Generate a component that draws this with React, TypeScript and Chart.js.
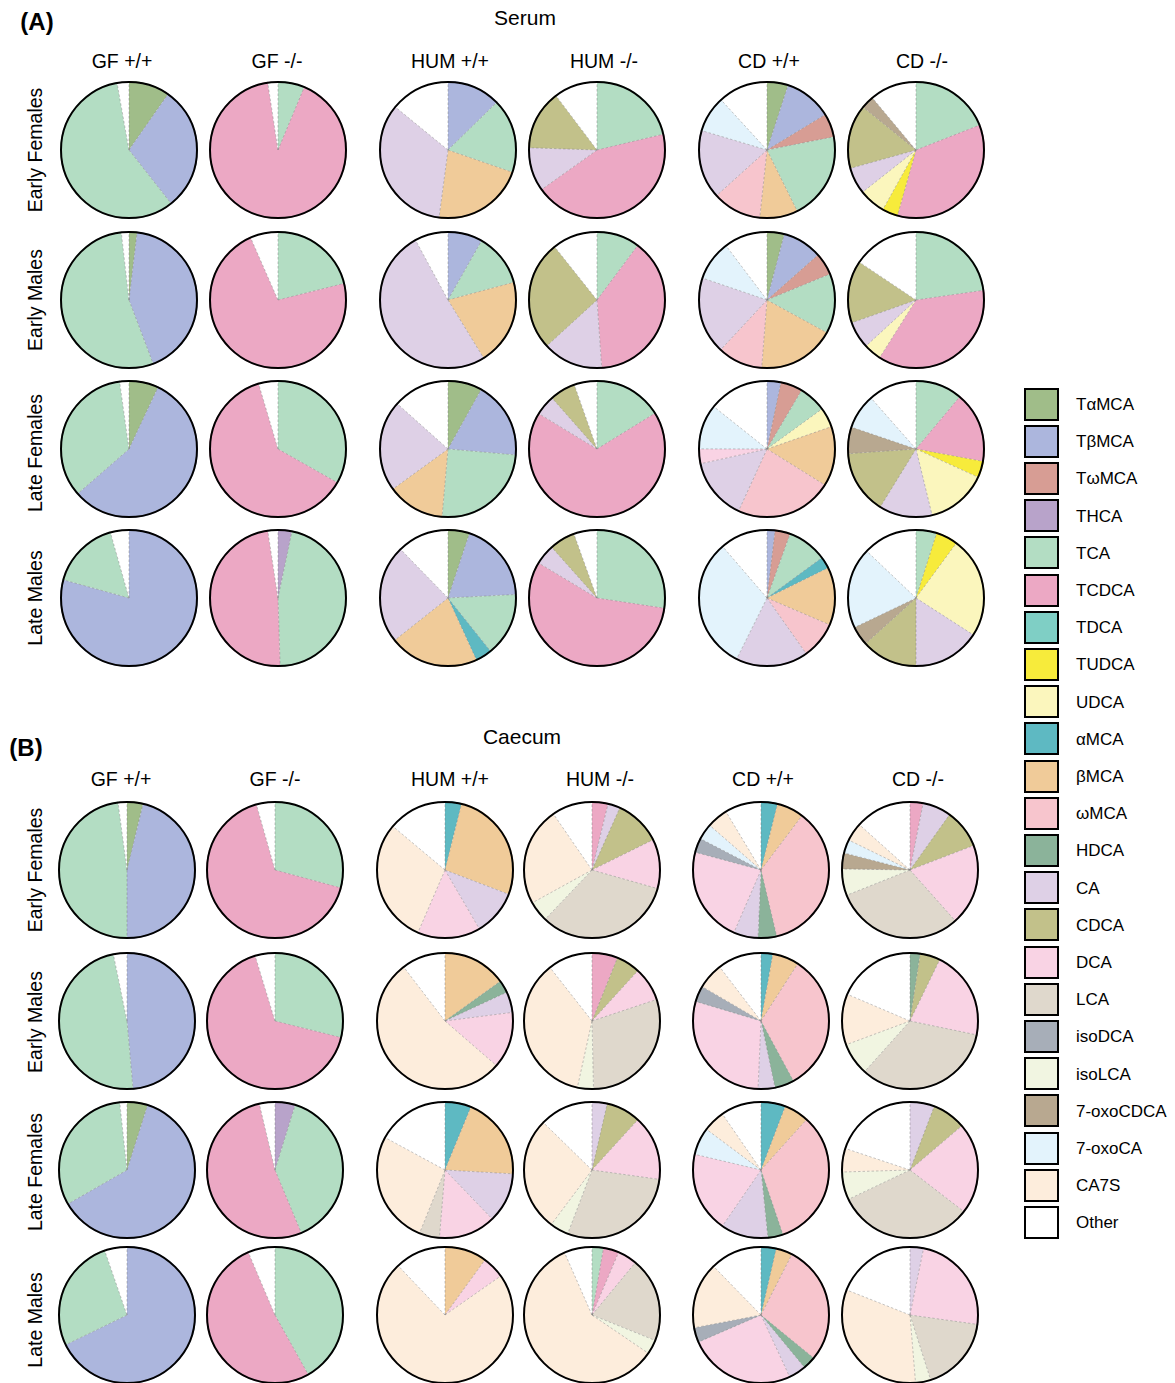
import React, { useEffect, useRef } from "react";
import { Chart, registerables } from "chart.js";

Chart.register(...registerables);

// ---------- categories ----------
const acids = [
  "TαMCA", "TβMCA", "TωMCA", "THCA", "TCA", "TCDCA", "TDCA", "TUDCA", "UDCA",
  "αMCA", "βMCA", "ωMCA", "HDCA", "CA", "CDCA", "DCA", "LCA", "isoDCA", "isoLCA",
  "7-oxoCDCA", "7-oxoCA", "CA7S", "Other",
];
const acidColors = [
  "#A0BD89", "#ACB6DD", "#D79D94", "#B8A3CA", "#B3DDC3", "#ECA8C4", "#7FCFC5", "#F7EB3B", "#FBF6BD",
  "#5EB9C2", "#F0CB99", "#F7C5CD", "#8BB39A", "#DED0E6", "#C2C18A", "#F9D3E4", "#DFD8CC", "#A7AEB8", "#F1F5E1",
  "#B8A890", "#E3F3FC", "#FDEDDC", "#FFFFFF",
];
const groups = ["GF +/+", "GF -/-", "HUM +/+", "HUM -/-", "CD +/+", "CD -/-"];
const cohorts = ["Early Females", "Early Males", "Late Females", "Late Males"];

type Slice = [string, number];

// ---------- Serum (% of total, per group GF+/+, GF-/-, HUM+/+, HUM-/-, CD+/+, CD-/-) ----------
const serumEarlyFemales: Slice[][] = [
  [["TαMCA", 9.7], ["TβMCA", 29.7], ["TCA", 57.8], ["Other", 2.8]],
  [["TCA", 6.3], ["TCDCA", 91.3], ["Other", 2.4]],
  [["TβMCA", 12.7], ["TCA", 17.6], ["βMCA", 21.8], ["CA", 33.8], ["Other", 14.1]],
  [["TCA", 21.3], ["TCDCA", 43.9], ["CA", 10.4], ["CDCA", 14.2], ["Other", 10.3]],
  [["TαMCA", 5.0], ["TβMCA", 11.3], ["TωMCA", 5.6], ["TCA", 20.8], ["βMCA", 9.0], ["ωMCA", 11.6], ["CA", 16.3], ["7-oxoCA", 8.6], ["Other", 11.8]],
  [["TCA", 19.1], ["TCDCA", 35.4], ["TUDCA", 3.7], ["UDCA", 6.3], ["CA", 6.3], ["CDCA", 15.2], ["7-oxoCDCA", 3.1], ["Other", 11.1]],
];
const serumEarlyMales: Slice[][] = [
  [["TαMCA", 1.9], ["TβMCA", 42.3], ["TCA", 53.9], ["Other", 1.8]],
  [["TCA", 21.1], ["TCDCA", 72.4], ["Other", 6.6]],
  [["TβMCA", 8.2], ["TCA", 12.6], ["βMCA", 20.4], ["CA", 50.8], ["Other", 7.9]],
  [["TCA", 10.2], ["TCDCA", 38.7], ["CA", 14.3], ["CDCA", 26.1], ["Other", 10.7]],
  [["TαMCA", 4.1], ["TβMCA", 9.4], ["TωMCA", 5.3], ["TCA", 14.2], ["βMCA", 18.3], ["ωMCA", 10.7], ["CA", 18.3], ["7-oxoCA", 9.5], ["Other", 10.3]],
  [["TCA", 22.7], ["TCDCA", 36.2], ["UDCA", 4.2], ["CA", 6.4], ["CDCA", 14.8], ["Other", 15.6]],
];
const serumLateFemales: Slice[][] = [
  [["TαMCA", 7.0], ["TβMCA", 56.6], ["TCA", 34.2], ["Other", 2.2]],
  [["TCA", 33.2], ["TCDCA", 62.2], ["Other", 4.6]],
  [["TαMCA", 8.1], ["TβMCA", 18.3], ["TCA", 25.0], ["βMCA", 13.6], ["CA", 21.6], ["Other", 13.4]],
  [["TCA", 16.2], ["TCDCA", 67.5], ["CA", 4.8], ["CDCA", 6.1], ["Other", 5.4]],
  [["TβMCA", 3.3], ["TωMCA", 5.2], ["TCA", 6.5], ["UDCA", 4.7], ["βMCA", 14.2], ["ωMCA", 23.0], ["CA", 14.7], ["DCA", 3.5], ["7-oxoCA", 10.7], ["Other", 14.3]],
  [["TCA", 11.1], ["TCDCA", 16.8], ["TUDCA", 3.9], ["UDCA", 14.4], ["CA", 12.6], ["CDCA", 15.1], ["7-oxoCDCA", 6.3], ["7-oxoCA", 8.3], ["Other", 11.5]],
];
const serumLateMales: Slice[][] = [
  [["TβMCA", 79.3], ["TCA", 16.3], ["Other", 4.4]],
  [["THCA", 3.3], ["TCA", 46.2], ["TCDCA", 48.1], ["Other", 2.4]],
  [["TαMCA", 5.1], ["TβMCA", 19.1], ["TCA", 15.1], ["αMCA", 3.9], ["βMCA", 21.2], ["CA", 23.4], ["Other", 12.3]],
  [["TCA", 27.4], ["TCDCA", 56.2], ["CA", 4.8], ["CDCA", 6.1], ["Other", 5.5]],
  [["TβMCA", 1.9], ["TωMCA", 3.6], ["TCA", 9.4], ["αMCA", 2.8], ["βMCA", 13.7], ["ωMCA", 8.8], ["CA", 17.1], ["7-oxoCA", 31.3], ["Other", 11.3]],
  [["TCA", 4.9], ["TUDCA", 5.2], ["UDCA", 24.0], ["CA", 15.9], ["CDCA", 13.3], ["7-oxoCDCA", 4.6], ["7-oxoCA", 19.2], ["Other", 12.9]],
];

// ---------- Caecum ----------
const caecumEarlyFemales: Slice[][] = [
  [["TαMCA", 3.8], ["TβMCA", 46.2], ["TCA", 47.9], ["Other", 2.1]],
  [["TCA", 29.2], ["TCDCA", 66.3], ["Other", 4.4]],
  [["αMCA", 3.9], ["βMCA", 26.9], ["CA", 10.8], ["DCA", 14.9], ["CA7S", 29.6], ["Other", 13.9]],
  [["TCDCA", 3.8], ["CA", 2.9], ["CDCA", 11.0], ["DCA", 11.7], ["LCA", 32.7], ["isoLCA", 4.9], ["CA7S", 23.4], ["Other", 9.6]],
  [["αMCA", 3.9], ["βMCA", 6.4], ["ωMCA", 36.0], ["HDCA", 4.4], ["CA", 5.8], ["DCA", 22.7], ["isoDCA", 3.4], ["7-oxoCA", 3.8], ["CA7S", 5.0], ["Other", 8.6]],
  [["TCDCA", 3.1], ["CA", 6.8], ["CDCA", 9.3], ["DCA", 19.3], ["LCA", 30.6], ["isoLCA", 6.3], ["7-oxoCDCA", 3.8], ["7-oxoCA", 3.2], ["CA7S", 4.4], ["Other", 13.4]],
];
const caecumEarlyMales: Slice[][] = [
  [["TβMCA", 48.6], ["TCA", 48.2], ["Other", 3.2]],
  [["TCA", 28.9], ["TCDCA", 66.4], ["Other", 4.7]],
  [["βMCA", 15.1], ["HDCA", 3.0], ["CA", 4.9], ["DCA", 13.4], ["CA7S", 53.3], ["Other", 10.4]],
  [["TCDCA", 6.1], ["CDCA", 5.7], ["DCA", 8.1], ["LCA", 29.8], ["isoLCA", 3.8], ["CA7S", 36.0], ["Other", 10.6]],
  [["αMCA", 2.8], ["βMCA", 6.3], ["ωMCA", 33.1], ["HDCA", 4.6], ["CA", 4.0], ["DCA", 29.0], ["isoDCA", 3.8], ["CA7S", 6.2], ["Other", 10.4]],
  [["HDCA", 2.4], ["CDCA", 4.8], ["DCA", 21.1], ["LCA", 33.4], ["isoLCA", 7.7], ["CA7S", 12.1], ["Other", 18.6]],
];
const caecumLateFemales: Slice[][] = [
  [["TαMCA", 4.9], ["TβMCA", 61.8], ["TCA", 31.6], ["Other", 1.7]],
  [["THCA", 4.8], ["TCA", 38.9], ["TCDCA", 52.6], ["Other", 3.7]],
  [["αMCA", 6.2], ["βMCA", 19.7], ["CA", 11.9], ["DCA", 13.5], ["LCA", 4.8], ["CA7S", 26.8], ["Other", 17.1]],
  [["CA", 3.6], ["CDCA", 8.2], ["DCA", 15.4], ["LCA", 28.6], ["isoLCA", 4.4], ["CA7S", 27.1], ["Other", 12.7]],
  [["αMCA", 5.8], ["βMCA", 5.9], ["ωMCA", 33.1], ["HDCA", 3.6], ["CA", 11.2], ["DCA", 19.1], ["7-oxoCA", 6.5], ["CA7S", 5.2], ["Other", 9.6]],
  [["CA", 5.8], ["CDCA", 8.0], ["DCA", 21.7], ["LCA", 32.5], ["isoLCA", 6.6], ["CA7S", 5.6], ["Other", 19.9]],
];
const caecumLateMales: Slice[][] = [
  [["TβMCA", 67.8], ["TCA", 26.9], ["Other", 5.3]],
  [["TCA", 41.9], ["TCDCA", 51.7], ["Other", 6.4]],
  [["βMCA", 10.0], ["DCA", 5.3], ["CA7S", 72.7], ["Other", 12.1]],
  [["TCA", 2.7], ["TCDCA", 3.7], ["DCA", 4.6], ["LCA", 20.1], ["isoLCA", 3.4], ["CA7S", 58.9], ["Other", 6.6]],
  [["αMCA", 3.6], ["βMCA", 3.9], ["ωMCA", 28.4], ["HDCA", 3.1], ["CA", 4.1], ["DCA", 25.4], ["isoDCA", 3.5], ["CA7S", 15.7], ["Other", 12.3]],
  [["CA", 3.2], ["DCA", 24.0], ["LCA", 17.9], ["isoLCA", 3.6], ["CA7S", 32.3], ["Other", 19.0]],
];

const serumRows = [serumEarlyFemales, serumEarlyMales, serumLateFemales, serumLateMales];
const caecumRows = [caecumEarlyFemales, caecumEarlyMales, caecumLateFemales, caecumLateMales];

// ---------- layout ----------
const FONT = "'Liberation Sans', Arial, Helvetica, sans-serif";
const PIE = 138;
const serumX = [129, 278, 448, 597, 767, 916];
const serumY = [150, 300, 449, 598];
const serumHeaderX = [122, 277, 450, 604, 769, 922];
const serumLabelY = [150, 300, 453, 598];
const caecumX = [127, 275, 445, 592, 761, 910];
const caecumY = [870, 1021, 1170, 1315];
const caecumHeaderX = [121, 275, 450, 600, 763, 918];
const caecumLabelY = [870, 1022, 1172, 1320];

const pieOutline = {
  id: "pieOutline",
  afterDatasetsDraw(chart: any) {
    const meta = chart.getDatasetMeta(0);
    if (!meta.data.length) return;
    const ctx = chart.ctx as CanvasRenderingContext2D;
    const p = meta.data[0].getProps(["x", "y", "outerRadius"], true);
    const x = p.x, y = p.y, r = p.outerRadius;
    ctx.save();
    ctx.setLineDash([2.5, 2]);
    ctx.strokeStyle = "rgba(115,115,115,0.6)";
    ctx.lineWidth = 0.7;
    meta.data.forEach((el: any) => {
      const a = el.getProps(["startAngle", "endAngle"], true);
      if (a.endAngle - a.startAngle < 1e-6) return;
      ctx.beginPath();
      ctx.moveTo(x, y);
      ctx.lineTo(x + Math.cos(a.startAngle) * r, y + Math.sin(a.startAngle) * r);
      ctx.stroke();
    });
    ctx.setLineDash([]);
    ctx.strokeStyle = "#000";
    ctx.lineWidth = 2;
    ctx.beginPath();
    ctx.arc(x, y, r - 1, 0, Math.PI * 2);
    ctx.stroke();
    ctx.restore();
  },
};

function PieChart({ slices, cx, cy }: { slices: Slice[]; cx: number; cy: number }) {
  const ref = useRef<HTMLCanvasElement>(null);
  useEffect(() => {
    const values = acids.map((a) => {
      const s = slices.find((p) => p[0] === a);
      return s ? s[1] : 0;
    });
    const chart = new Chart(ref.current as HTMLCanvasElement, {
      type: "pie",
      data: {
        labels: acids,
        datasets: [{ data: values, backgroundColor: acidColors, borderWidth: 0 }],
      },
      options: {
        responsive: false,
        animation: false,
        devicePixelRatio: 1,
        events: [],
        layout: { padding: 0 },
        plugins: { legend: { display: false }, tooltip: { enabled: false } },
      },
      plugins: [pieOutline],
    } as any);
    return () => chart.destroy();
  }, [slices]);
  return (
    <canvas
      ref={ref}
      width={PIE}
      height={PIE}
      style={{ position: "absolute", left: cx - PIE / 2, top: cy - PIE / 2, width: PIE, height: PIE }}
    />
  );
}

function Txt({ x, y, size, bold, rotate, children }: any) {
  return (
    <div
      style={{
        position: "absolute",
        left: x,
        top: y,
        transform: `translate(-50%, -50%)${rotate ? " rotate(-90deg)" : ""}`,
        fontFamily: FONT,
        fontSize: size,
        fontWeight: bold ? "bold" : "normal",
        whiteSpace: "nowrap",
        color: "#000",
        lineHeight: 1,
      }}
    >
      {children}
    </div>
  );
}

function Panel({ rows, xs, ys, headerX, headerY, labelY }: any) {
  return (
    <>
      {groups.map((g, i) => (
        <Txt key={"h" + i} x={headerX[i]} y={headerY} size={19.5}>{g}</Txt>
      ))}
      {cohorts.map((c, j) => (
        <Txt key={"c" + j} x={36} y={labelY[j]} size={19.5} rotate>{c}</Txt>
      ))}
      {rows.map((row: Slice[][], j: number) =>
        row.map((slices, i) => <PieChart key={j + "-" + i} slices={slices} cx={xs[i]} cy={ys[j]} />)
      )}
    </>
  );
}

export default function App() {
  return (
    <div
      style={{
        position: "absolute",
        left: 0,
        top: 0,
        width: 1175,
        height: 1383,
        background: "#fff",
        overflow: "hidden",
      }}
    >
      <Txt x={37} y={22} size={24} bold>(A)</Txt>
      <Txt x={525} y={17} size={21}>Serum</Txt>
      <Panel rows={serumRows} xs={serumX} ys={serumY} headerX={serumHeaderX} headerY={62} labelY={serumLabelY} />

      <Txt x={26} y={748} size={24} bold>(B)</Txt>
      <Txt x={522} y={736} size={21}>Caecum</Txt>
      <Panel rows={caecumRows} xs={caecumX} ys={caecumY} headerX={caecumHeaderX} headerY={780} labelY={caecumLabelY} />

      {acids.map((a, i) => (
        <React.Fragment key={a}>
          <div
            style={{
              position: "absolute",
              left: 1024,
              top: 404 + i * 37.2 - 16.5,
              width: 31,
              height: 29,
              background: acidColors[i],
              border: "2px solid #000",
            }}
          />
          <div
            style={{
              position: "absolute",
              left: 1076,
              top: 404 + i * 37.2,
              transform: "translateY(-50%)",
              fontFamily: FONT,
              fontSize: 17,
              lineHeight: 1,
              whiteSpace: "nowrap",
              color: "#000",
            }}
          >
            {a}
          </div>
        </React.Fragment>
      ))}
    </div>
  );
}
